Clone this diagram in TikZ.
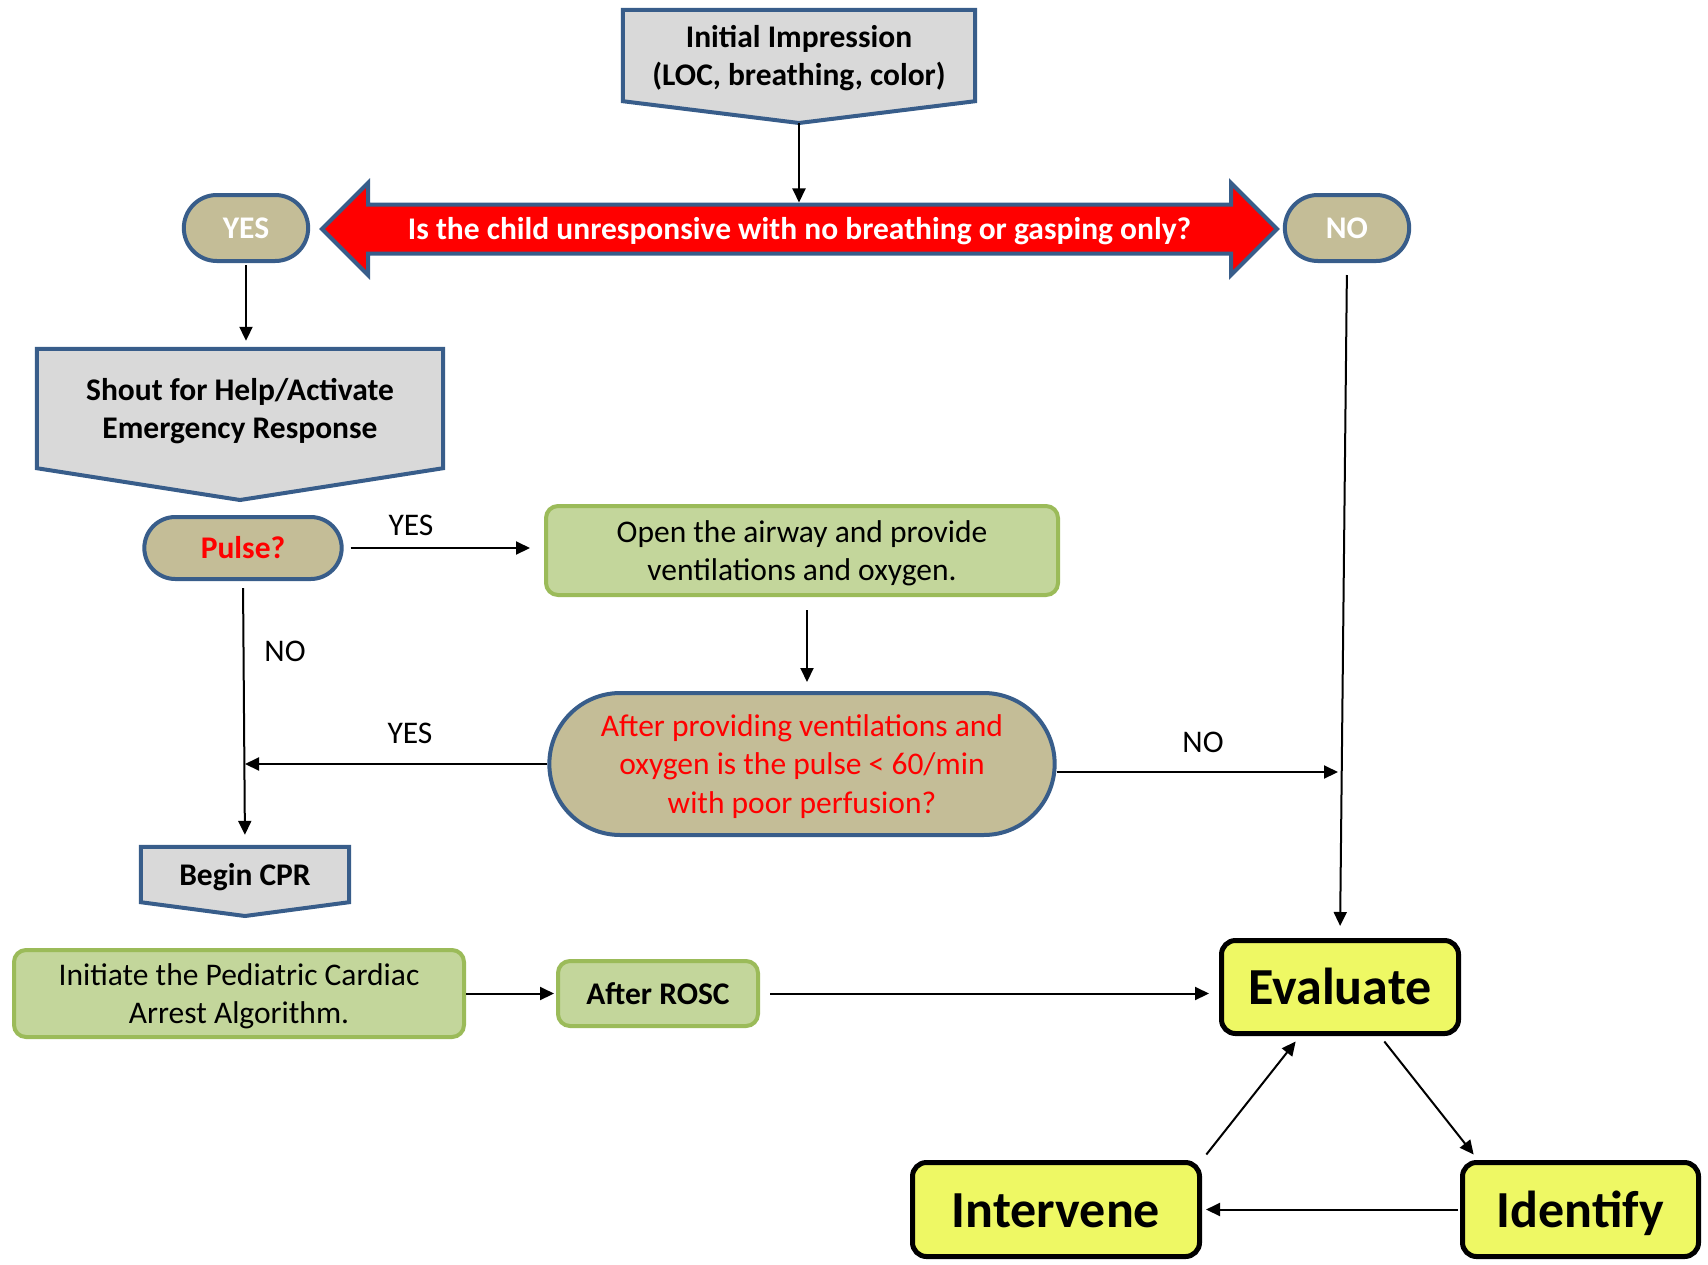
\documentclass[tikz,border=0pt]{standalone}
\usepackage{fontspec}
\setmainfont{Carlito}
\usepackage{tikz}
\usetikzlibrary{arrows.meta,shapes.arrows,shapes.misc,backgrounds,positioning}

\definecolor{blueline}{HTML}{385D8A}
\definecolor{grayfill}{HTML}{D9D9D9}
\definecolor{tanfill}{HTML}{C4BD97}
\definecolor{greenfill}{HTML}{C3D69B}
\definecolor{greenline}{HTML}{9BBB59}
\definecolor{yellowfill}{HTML}{EEF864}

\newcommand{\txtsize}{\fontsize{31.5}{38.4}\selectfont}
\newcommand{\bigsize}{\fontsize{52}{62}\selectfont}
\newcommand{\linestrut}{\rule[-0.27em]{0pt}{1.22em}}

\tikzset{
  every node/.append style={execute at begin node=\linestrut, execute at end node=\linestrut},
  pentbody/.style={inner sep=0pt, align=center, font=\txtsize\bfseries},
  pentshape/.style={draw=blueline, fill=grayfill, line width=4pt},
  pill/.style={rounded rectangle, draw=blueline, fill=tanfill, line width=4pt, font=\txtsize\bfseries},
  greenbox/.style={rectangle, rounded corners=12pt, draw=greenline, fill=greenfill, line width=4pt, align=center, font=\txtsize},
  cyclebox/.style={rectangle, rounded corners=14pt, draw=black, fill=yellowfill, line width=5pt, font=\bigsize\bfseries},
  lbl/.style={font=\txtsize},
  conn/.style={->, line width=2pt},
}

\begin{document}
\begin{tikzpicture}[x=1pt, y=-1pt, >={Triangle[length=14pt,width=13pt]}]
  \useasboundingbox (0,0) rectangle (1708,1264);

  % first question
  \node[pentbody, minimum width=352pt, minimum height=91pt] (init) at (799,55.5) {\linestrut Initial Impression\\(LOC, breathing, color)};
  \coordinate (initTip) at (799,123);
  \node[double arrow, double arrow head extend=21.5pt, draw=blueline, fill=red, line width=4pt,
        minimum height=955pt, inner ysep=3.25pt, text height=30pt, text depth=8.5pt,
        text=white, font=\txtsize\bfseries] (ask) at (799.5,229)
        {Is the child unresponsive with no breathing or gasping only?};
  \node[pill, text=white, minimum width=131pt, minimum height=66pt] (yes) at (246,228) {YES};
  \node[pill, text=white, minimum width=131pt, minimum height=66pt] (no) at (1347,228) {NO};

  % left branch
  \node[pentbody, minimum width=406pt, minimum height=119pt] (shout) at (240,408.5) {\linestrut Shout for Help/Activate\\Emergency Response};
  \coordinate (shoutTip) at (240,500);
  \node[pill, text=red, minimum width=204pt, minimum height=62pt] (pulse) at (243,548) {Pulse?};
  \node[greenbox, minimum width=512pt, minimum height=89pt] (airway) at (802,550.5) {\linestrut Open the airway and provide\\ventilations and oxygen.};
  \node[pill, font=\txtsize, text=red, align=center, minimum width=512pt, minimum height=142pt] (recheck) at (802,764)
        {\linestrut After providing ventilations and\\oxygen is the pulse < 60/min\\with poor perfusion?};
  \node[pentbody, minimum width=208pt, minimum height=55pt] (cpr) at (245,874.5) {Begin CPR};
  \coordinate (cprTip) at (245,916);
  \node[greenbox, minimum width=450pt, minimum height=87pt] (arrest) at (239,993.5) {\linestrut Initiate the Pediatric Cardiac\\Arrest Algorithm.};
  \node[greenbox, font=\txtsize\bfseries, minimum width=200pt, minimum height=65pt] (rosc) at (658,993.5) {After ROSC};

  % cycle
  \node[cyclebox, minimum width=237pt, minimum height=93pt] (eval) at (1340,987) {Evaluate};
  \node[cyclebox, minimum width=236pt, minimum height=94pt] (ident) at (1580.5,1209.5) {Identify};
  \node[cyclebox, minimum width=287pt, minimum height=94pt] (interv) at (1056,1209.5) {Intervene};

  \begin{scope}[on background layer]
    \draw[pentshape] (init.north west) -- (init.north east) -- (init.south east) -- (initTip) -- (init.south west) -- cycle;
    \draw[pentshape] (shout.north west) -- (shout.north east) -- (shout.south east) -- (shoutTip) -- (shout.south west) -- cycle;
    \draw[pentshape] (cpr.north west) -- (cpr.north east) -- (cpr.south east) -- (cprTip) -- (cpr.south west) -- cycle;
  \end{scope}

  % labels
  \node[lbl] (yesA) at (411,525) {YES};
  \node[lbl] (noA) at (285,651) {NO};
  \node[lbl] (yesB) at (410,733) {YES};
  \node[lbl] (noB) at (1203,742) {NO};

  % connectors
  \draw[conn] (initTip) -- (initTip |- ask.north);
  \draw[conn, shorten <=2pt, shorten >=8pt] (yes.south) -- (yes.south |- shout.north);
  \draw[conn, shorten <=7pt, shorten >=14pt] (pulse.east) -- (pulse.east -| airway.west);
  \draw[conn, shorten <=7pt, shorten >=12pt] (pulse.south) -- (cpr.north);
  \draw[conn, shorten <=13pt, shorten >=9pt] ([xshift=5pt]airway.south) -- ([xshift=5pt]recheck.north);
  \draw[conn, shorten >=2pt] (recheck.west) -- (recheck.west -| pulse.south);
  \draw[conn, shorten >=2pt] ([yshift=-8pt]recheck.east) -- ([yshift=-8pt]recheck.east -| eval.north);
  \draw[conn, shorten <=12pt, shorten >=12pt] (no.south) -- (eval.north);
  \draw[conn, shorten >=2pt] (arrest.east) -- (rosc.west);
  \draw[conn, shorten <=10pt, shorten >=10pt] (rosc.east) -- (rosc.east -| eval.west);
  \draw[conn, shorten <=7pt, shorten >=7pt] ([xshift=40pt]eval.south) -- ([xshift=18pt]ident.north west);
  \draw[conn, shorten <=7pt, shorten >=7pt] (interv.north east) -- ([xshift=-40pt]eval.south);
  \draw[conn, shorten <=2pt, shorten >=4pt] (ident.west) -- (interv.east);
\end{tikzpicture}
\end{document}
